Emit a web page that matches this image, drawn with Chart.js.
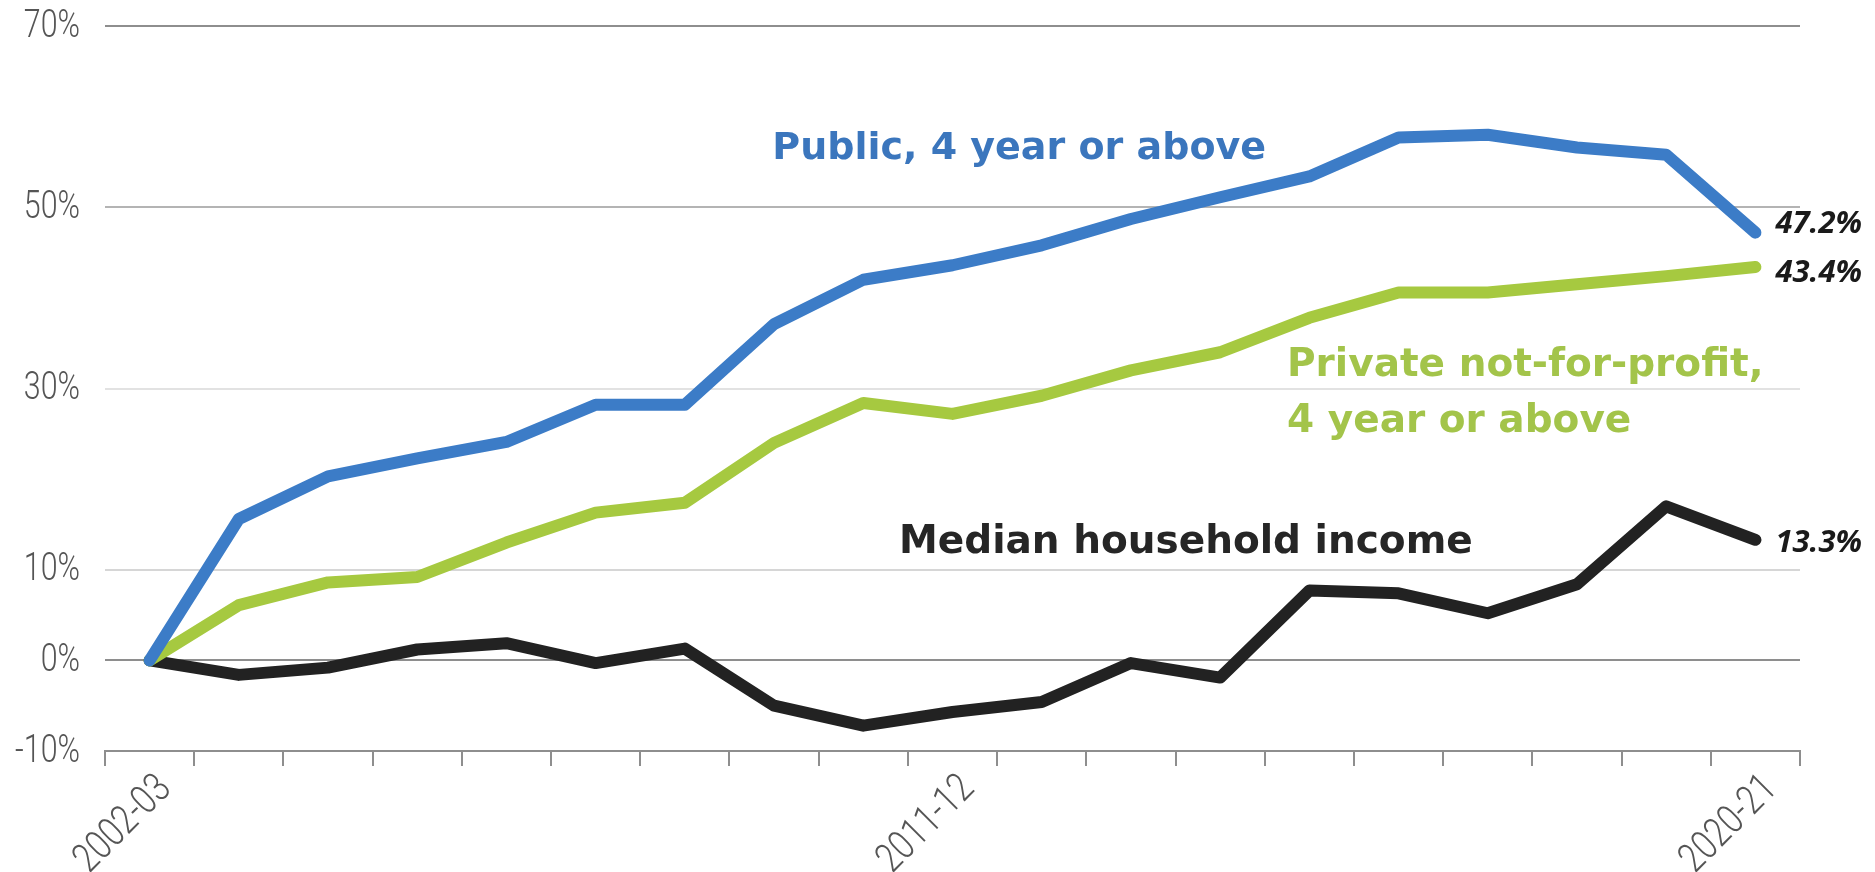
<!DOCTYPE html>
<html>
<head>
<meta charset="utf-8">
<script src="https://cdn.jsdelivr.net/npm/chart.js"></script>
<style>
  html, body { margin: 0; padding: 0; background: #fff; }
  #wrap { width: 1875px; height: 872px; position: relative; }
</style>
</head>
<body>
<div id="wrap"><canvas id="tuition-chart"></canvas></div>
<script>
// academic years on the x axis
const years = [
  "2002-03", "2003-04", "2004-05", "2005-06", "2006-07", "2007-08", "2008-09",
  "2009-10", "2010-11", "2011-12", "2012-13", "2013-14", "2014-15", "2015-16",
  "2016-17", "2017-18", "2018-19", "2019-20", "2020-21",
];
const shownYears = ["2002-03", "2011-12", "2020-21"];

// cumulative change since 2002-03, in percent
const publicFourYear = [
  0, 15.6, 20.3, 22.3, 24.1, 28.2, 28.2, 37.1, 42.0, 43.6,
  45.8, 48.7, 51.1, 53.4, 57.7, 58.0, 56.6, 55.8, 47.2,
];
const privateNonprofit = [
  0, 6.1, 8.6, 9.2, 13.0, 16.3, 17.4, 24.0, 28.4, 27.2,
  29.2, 32.0, 34.0, 37.8, 40.6, 40.6, 41.5, 42.4, 43.4,
];
const medianIncome = [
  0, -1.6, -0.8, 1.2, 1.9, -0.3, 1.3, -5.0, -7.2, -5.7,
  -4.6, -0.3, -1.9, 7.7, 7.4, 5.2, 8.4, 17.0, 13.3,
];

const yTicks = [-10, 0, 10, 30, 50, 70];

const BLUE = "#3c7cc7";
const GREEN = "#a6c940";
const BLACK = "#222222";

const gridColors = {
  70: "#8e8e8e",
  50: "#b4b4b4",
  30: "#e2e2e2",
  10: "#d6d6d6",
  0: "#8e8e8e",
};

// narrow grey axis text: regular face squeezed horizontally
const AXIS_FONT = "300 38px Roboto";
const AXIS_FONT_X = "300 41px Roboto";
const SQUEEZE = 0.8;

const axisLabels = {
  id: "axisLabels",
  afterDraw(chart) {
    const { ctx, scales } = chart;
    const xs = scales.x;
    const ys = scales.y;
    ctx.save();
    ctx.fillStyle = "#555";
    ctx.textBaseline = "middle";
    ctx.textAlign = "right";

    ctx.font = AXIS_FONT;
    ys.ticks.forEach((t) => {
      ctx.save();
      ctx.translate(ys.right - 25, ys.getPixelForValue(t.value) + 1);
      ctx.scale(SQUEEZE, 1);
      ctx.fillText(t.value + "%", 0, 0);
      ctx.restore();
    });

    ctx.font = AXIS_FONT_X;
    years.forEach((y, i) => {
      if (!shownYears.includes(y)) return;
      ctx.save();
      ctx.translate(xs.getPixelForValue(i) + 16, xs.top + 32);
      ctx.rotate(-Math.PI / 4);
      ctx.scale(SQUEEZE, 1);
      ctx.fillText(y, 0, 0);
      ctx.restore();
    });
    ctx.restore();
  },
};

// series names and last-value labels, placed in data units
const seriesLabels = {
  id: "seriesLabels",
  afterDatasetsDraw(chart, args, opts) {
    const { ctx, scales } = chart;
    const xs = scales.x;
    const ys = scales.y;
    ctx.save();
    ctx.textAlign = "left";

    ctx.textBaseline = "alphabetic";
    opts.names.forEach((n) => {
      ctx.font = n.font;
      ctx.fillStyle = n.color;
      const px = xs.left + (n.x + 0.5) * (xs.width / years.length);
      ctx.fillText(n.text, px, ys.getPixelForValue(n.y));
    });

    ctx.textBaseline = "middle";
    ctx.font = opts.endFont;
    ctx.fillStyle = "#1a1a1a";
    chart.data.datasets.forEach((ds, i) => {
      const last = ds.data[ds.data.length - 1];
      const px = xs.getPixelForValue(ds.data.length - 1) + 20;
      const py = ys.getPixelForValue(last) + (opts.endShift[i] || 0);
      ctx.fillText(last.toFixed(1) + "%", px, py);
    });
    ctx.restore();
  },
};

const NAME_FONT = "bold 39px 'DejaVu Sans'";

const ctx = document.getElementById("tuition-chart").getContext("2d");
new Chart(ctx, {
  type: "line",
  data: {
    labels: years,
    datasets: [
      {
        label: "Public, 4 year or above",
        data: publicFourYear,
        borderColor: BLUE,
        order: 0,
      },
      {
        label: "Private not-for-profit, 4 year or above",
        data: privateNonprofit,
        borderColor: GREEN,
        order: 1,
      },
      {
        label: "Median household income",
        data: medianIncome,
        borderColor: BLACK,
        order: 2,
      },
    ],
  },
  options: {
    responsive: true,
    maintainAspectRatio: false,
    animation: false,
    events: [],
    layout: { padding: { top: 26, right: 75, left: 0, bottom: 0 } },
    elements: {
      point: { radius: 0 },
      line: {
        borderWidth: 12,
        tension: 0,
        borderCapStyle: "round",
        borderJoinStyle: "round",
        fill: false,
      },
    },
    plugins: {
      legend: { display: false },
      tooltip: { enabled: false },
      seriesLabels: {
        endFont: "italic bold 31px 'Open Sans'",
        endShift: [-8, 6.5, 3.6],
        names: [
          { text: "Public, 4 year or above", x: 6.98, y: 55.3, color: "#3b76bd", font: "bold 38px 'DejaVu Sans'" },
          { text: "Private not-for-profit,", x: 12.75, y: 31.4, color: "#a3c44a", font: NAME_FONT },
          { text: "4 year or above", x: 12.75, y: 25.2, color: "#a3c44a", font: NAME_FONT },
          { text: "Median household income", x: 8.4, y: 11.8, color: "#262626", font: NAME_FONT },
        ],
      },
    },
    scales: {
      x: {
        offset: true,
        grid: {
          offset: true,
          drawOnChartArea: false,
          tickLength: 15,
          color: "#8e8e8e",
          lineWidth: 2,
        },
        border: { color: "#8e8e8e", width: 2 },
        ticks: { display: false, autoSkip: false },
        afterFit: (scale) => {
          scale.height = 121;
        },
      },
      y: {
        min: -10,
        max: 70,
        afterBuildTicks: (scale) => {
          scale.ticks = yTicks.map((v) => ({ value: v }));
        },
        grid: {
          drawTicks: false,
          lineWidth: 2,
          color: (c) => gridColors[c.tick.value] || "rgba(0,0,0,0)",
        },
        border: { display: false },
        ticks: { display: false },
        afterFit: (scale) => {
          scale.width = 105;
        },
      },
    },
  },
  plugins: [seriesLabels, axisLabels],
});
</script>
</body>
</html>
